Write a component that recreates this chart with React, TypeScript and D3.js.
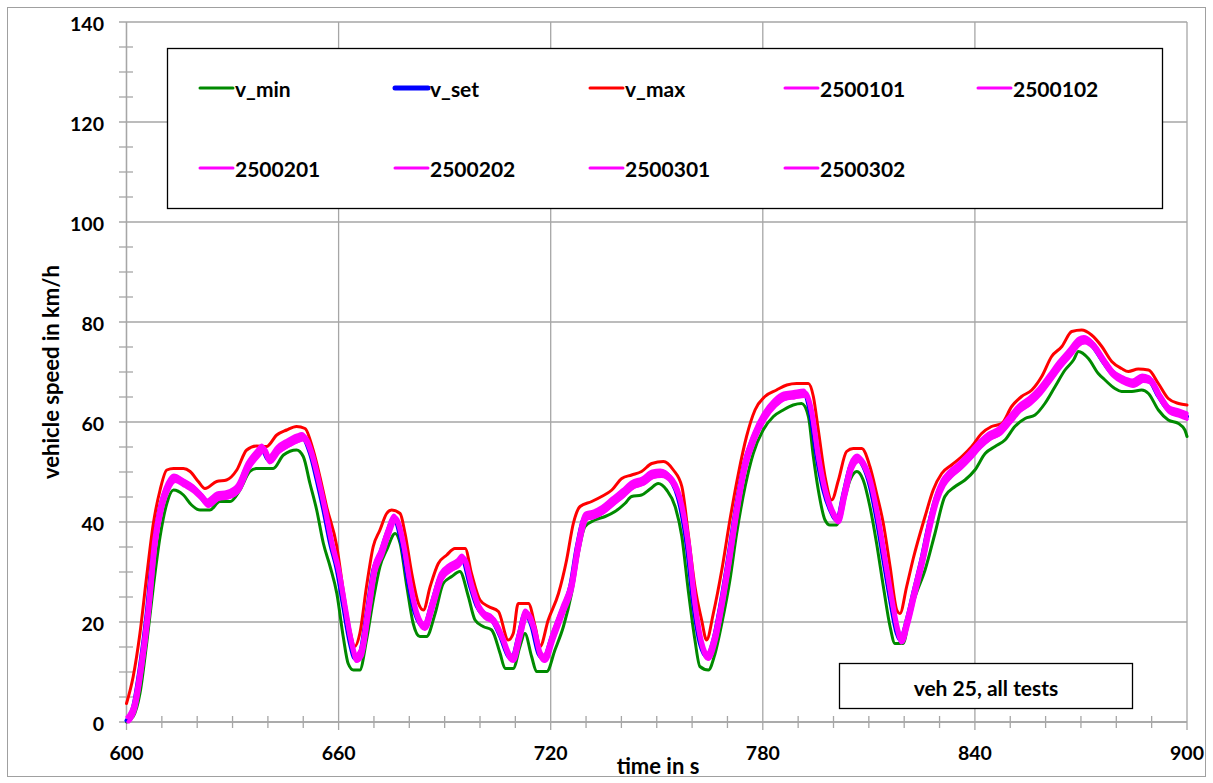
import React from 'react';
import * as d3 from 'd3';

// ---------- data ----------
const timeTicks = [600, 660, 720, 780, 840, 900];
const speedTicks = [0, 20, 40, 60, 80, 100, 120, 140];

const vSet: [number, number][] = [
  [600, 0.3], [601.9, 3.1], [603.8, 11.1], [605.7, 21.7], [607.6, 35.7], [609.5, 43.1], [611.4, 47.1],
  [613.3, 48.7], [616.1, 47.7], [618.4, 46.7], [620.8, 45.1], [622.7, 43.7], [625.5, 45.1], [628.3, 45.4],
  [631.2, 46.7], [634.0, 51.1], [636.8, 53.7], [638.2, 54.7], [640.1, 52.4], [642.5, 54.4], [645.3, 55.7],
  [648.1, 56.7], [649.5, 57.0], [651.9, 53.7], [653.8, 48.4], [655.7, 42.4], [657.6, 35.7], [659.5, 30.4],
  [661.3, 23.1], [663.2, 15.7], [664.6, 12.7], [666.0, 13.7], [667.9, 21.7], [669.8, 30.4], [671.7, 33.7],
  [673.6, 37.7], [675.5, 40.7], [677.8, 35.7], [679.7, 27.7], [681.6, 21.7], [684.0, 19.1], [686.3, 23.7],
  [688.7, 29.1], [691.0, 30.7], [693.4, 31.7], [694.8, 32.7], [697.2, 27.1], [699.1, 23.1], [700.9, 21.4],
  [703.3, 20.4], [705.7, 17.1], [708.0, 13.1], [709.0, 12.7], [710.8, 17.1], [712.7, 21.7], [714.6, 19.1],
  [716.5, 13.7], [717.9, 12.7], [720.3, 17.1], [723.1, 22.4], [725.5, 27.1], [727.4, 35.1], [729.7, 41.1],
  [731.6, 41.4], [734.4, 42.4], [737.3, 44.1], [740.1, 45.7], [742.9, 47.4], [745.7, 48.1], [748.6, 49.5],
  [750.9, 49.7], [753.8, 48.4], [756.6, 43.1], [758.5, 35.1], [760.4, 23.1], [762.2, 15.7], [764.1, 13.1],
  [766.0, 16.4], [767.9, 23.1], [769.8, 31.1], [772.1, 41.7], [774.5, 51.1], [777.3, 57.1], [780.1, 61.1],
  [783.0, 63.7], [785.8, 65.1], [788.6, 65.4], [791.5, 65.7], [793.4, 61.7], [795.2, 53.1], [797.1, 46.4],
  [799.0, 42.4], [800.9, 40.4], [802.8, 45.7], [804.7, 51.1], [806.6, 52.7], [808.4, 51.1], [810.3, 47.1],
  [812.2, 40.4], [814.1, 32.4], [816.0, 24.4], [817.9, 17.7], [818.8, 16.4], [820.7, 20.4], [822.6, 26.0],
  [825.0, 33.0], [826.8, 39.1], [828.7, 44.4], [830.6, 47.7], [832.5, 49.4], [835.3, 51.1], [838.1, 53.1],
  [841.0, 55.4], [843.8, 57.1], [846.6, 58.1], [849.5, 60.4], [852.3, 62.7], [855.1, 64.1], [858.0, 66.1],
  [860.8, 68.7], [863.6, 71.4], [866.4, 73.7], [869.3, 76.1], [870.7, 76.4], [873.0, 75.4], [875.9, 72.4],
  [878.7, 69.7], [881.5, 68.4], [884.4, 67.7], [887.2, 68.7], [889.1, 68.4], [891.9, 65.1], [894.7, 62.4],
  [897.6, 61.7], [900, 61.1],
];

const vMax: [number, number][] = [
  [600, 3.7], [601.9, 9.1], [603.8, 17.7], [605.7, 29.1], [607.6, 39.7], [609.5, 46.4], [611.4, 50.4],
  [613.3, 50.7], [616.1, 50.7], [618.0, 50.1], [620.3, 48.1], [622.2, 46.7], [625.5, 48.1], [628.3, 48.4],
  [631.2, 50.4], [634.0, 54.4], [636.8, 55.2], [639.6, 55.1], [642.5, 57.4], [645.3, 58.4], [648.1, 59.1],
  [650.5, 58.7], [652.8, 54.4], [654.7, 49.1], [656.6, 43.1], [659.5, 35.1], [661.3, 26.4], [663.2, 18.4],
  [664.6, 15.1], [666.0, 17.7], [667.9, 27.1], [669.8, 35.1], [671.7, 38.4], [673.6, 41.7], [675.0, 42.4],
  [677.4, 41.7], [678.8, 37.7], [680.7, 29.7], [682.6, 23.7], [684.0, 22.4], [685.9, 27.1], [688.2, 31.7],
  [690.6, 33.4], [692.9, 34.7], [695.8, 34.7], [697.6, 29.7], [700.0, 24.4], [702.4, 23.1], [705.2, 22.1],
  [708.0, 16.4], [709.4, 17.7], [710.8, 23.7], [713.7, 23.7], [715.6, 19.1], [717.0, 15.1], [719.3, 20.4],
  [722.2, 25.7], [724.5, 32.4], [726.4, 39.7], [728.3, 43.1], [731.6, 44.1], [734.4, 45.1], [737.3, 46.4],
  [740.1, 48.7], [742.9, 49.4], [745.7, 50.1], [748.6, 51.7], [751.9, 52.1], [754.7, 50.4], [757.1, 47.1],
  [758.9, 37.7], [760.8, 27.1], [762.7, 20.4], [764.1, 16.4], [766.0, 21.7], [768.4, 30.4], [770.7, 40.4],
  [773.1, 49.7], [775.4, 57.1], [777.8, 62.4], [780.6, 65.1], [783.9, 66.4], [786.8, 67.4], [789.6, 67.7],
  [792.9, 67.7], [794.3, 65.1], [795.7, 58.4], [797.6, 49.1], [799.5, 44.4], [801.4, 48.4], [803.7, 54.1],
  [805.6, 54.7], [808.0, 54.7], [810.3, 51.1], [812.2, 45.7], [814.1, 39.7], [816.0, 31.1], [817.9, 22.4],
  [818.8, 21.7], [820.7, 27.1], [822.6, 32.8], [825.9, 41.1], [828.2, 46.4], [830.6, 49.7], [833.4, 51.4],
  [836.3, 53.1], [839.1, 55.1], [841.9, 57.7], [844.7, 59.1], [847.6, 59.7], [850.4, 63.1], [853.2, 65.1],
  [856.1, 66.4], [858.9, 69.1], [861.7, 73.1], [864.6, 75.1], [867.4, 78.1], [870.2, 78.4], [873.0, 77.4],
  [875.9, 75.1], [878.7, 72.1], [881.5, 70.7], [883.4, 70.1], [886.2, 70.6], [889.1, 70.4], [891.9, 67.7],
  [894.7, 64.7], [897.6, 63.7], [900, 63.4],
];

const vMin: [number, number][] = [
  [600, 0], [601.9, 1.1], [603.8, 5.7], [605.7, 15.7], [607.6, 27.1], [609.5, 37.1], [611.4, 43.7],
  [613.3, 46.4], [616.1, 45.4], [618.4, 43.4], [620.8, 42.4], [623.6, 42.4], [626.4, 44.1], [629.3, 44.1],
  [632.1, 46.4], [634.9, 50.1], [636.8, 50.7], [639.6, 50.7], [641.5, 50.7], [644.4, 53.4], [648.1, 54.4],
  [650.0, 53.1], [651.9, 47.7], [653.8, 42.4], [655.7, 35.7], [657.6, 31.1], [659.5, 25.7], [661.3, 17.1],
  [662.7, 11.7], [664.2, 10.4], [666.0, 10.4], [667.9, 16.4], [669.8, 24.4], [671.7, 31.1], [673.6, 34.4],
  [676.0, 37.7], [677.4, 35.7], [679.3, 27.1], [681.1, 19.7], [683.0, 17.1], [684.9, 17.1], [687.3, 21.7],
  [689.6, 27.7], [692.0, 29.1], [694.3, 30.1], [696.7, 25.1], [698.6, 20.4], [700.9, 19.1], [703.3, 18.4],
  [705.7, 13.7], [707.1, 10.7], [709.4, 10.7], [711.3, 15.1], [712.7, 17.7], [714.6, 13.1], [716.0, 10.1],
  [718.9, 10.1], [721.2, 14.4], [723.6, 19.1], [725.9, 25.7], [727.8, 33.7], [729.7, 39.1], [732.5, 40.4],
  [735.4, 41.1], [738.2, 42.1], [741.0, 43.7], [742.9, 45.1], [745.7, 45.4], [748.1, 46.6], [750.4, 47.7],
  [752.8, 46.4], [755.2, 43.1], [757.1, 37.1], [758.9, 26.4], [760.8, 16.4], [762.2, 11.1], [764.6, 10.4],
  [766.5, 13.7], [768.4, 19.7], [770.7, 28.4], [772.6, 37.7], [775.0, 47.1], [777.3, 53.7], [780.1, 58.4],
  [783.0, 61.1], [785.8, 62.4], [788.6, 63.4], [791.0, 63.7], [792.9, 61.1], [794.3, 53.1], [795.7, 46.4],
  [797.6, 40.4], [799.0, 39.4], [800.9, 39.4], [802.8, 43.7], [804.7, 48.4], [806.6, 50.1], [808.4, 48.4],
  [810.3, 43.1], [812.2, 35.7], [814.1, 27.1], [816.0, 19.1], [817.4, 15.7], [819.7, 15.7], [821.6, 21.7],
  [823.3, 25.5], [825.9, 30.4], [828.7, 37.7], [831.5, 45.1], [834.4, 47.1], [837.2, 48.4], [840.0, 50.4],
  [842.9, 53.7], [845.7, 55.1], [848.5, 56.4], [851.3, 59.1], [854.2, 60.7], [857.0, 61.4], [859.8, 63.7],
  [862.7, 67.1], [865.5, 70.4], [867.9, 72.4], [869.3, 74.1], [872.1, 72.7], [874.9, 69.7], [876.8, 68.4],
  [879.6, 66.7], [881.5, 66.1], [884.4, 66.1], [887.2, 66.4], [889.1, 65.7], [891.9, 62.4], [894.7, 60.4],
  [897.6, 59.7], [899.4, 58.4], [900, 57.1],
];

const testRuns = ['2500101', '2500102', '2500201', '2500202', '2500301', '2500302'];
const testLag = [0.3, 0.7, 0.1, 0.5, 0.4, 0.8];
const testBias = [0.5, -0.5, 0.7, -0.2, -0.6, 0.2];

const legendItems = [
  { name: 'v_min', color: '#008a00', width: 3 },
  { name: 'v_set', color: '#0000ff', width: 5 },
  { name: 'v_max', color: '#ff0000', width: 3 },
  ...testRuns.map((n) => ({ name: n, color: '#ff00ff', width: 3 })),
];

// ---------- layout ----------
const W = 1213;
const H = 783;
const PL = 126.5, PR = 1187, PT = 22, PB = 722;
const FONT = "Lato, 'Open Sans', 'Liberation Sans', sans-serif";
const GRID = '#a6a6a6';

export default function App() {
  const x = d3.scaleLinear().domain([600, 900]).range([PL, PR]);
  const y = d3.scaleLinear().domain([0, 140]).range([PB, PT]);
  const line = d3
    .line<[number, number]>()
    .x((d) => x(d[0]))
    .y((d) => y(d[1]))
    .curve(d3.curveMonotoneX);

  const minorY = d3.range(0, 141, 5).filter((v) => v % 20 !== 0);
  const minorX = d3.range(600, 901, 10).filter((t) => t % 60 !== 0);

  const testData = testRuns.map((_, i) =>
    vSet.map(([t, v]) => [Math.min(900, t + testLag[i]), Math.max(0, v + testBias[i])] as [number, number])
  );

  const colX = [200, 395, 590, 785, 978];
  const rowY = [88, 168];

  return (
    <svg
      width={W}
      height={H}
      style={{ position: 'absolute', left: 0, top: 0, background: '#fff' }}
      fontFamily={FONT}
    >
      <rect x={0} y={0} width={W} height={H} fill="#fff" />
      <rect x={7.5} y={7.5} width={1198} height={769} fill="none" stroke="#a0a0a0" strokeWidth={1} />

      {/* gridlines */}
      {speedTicks.map((v) => (
        <line key={'gy' + v} x1={119} x2={PR} y1={y(v)} y2={y(v)} stroke={GRID} strokeWidth={1.3} />
      ))}
      {timeTicks.map((t) => (
        <line key={'gx' + t} x1={x(t)} x2={x(t)} y1={PT} y2={730} stroke={GRID} strokeWidth={1.3} />
      ))}
      {minorY.map((v) => (
        <line key={'my' + v} x1={119} x2={133} y1={y(v)} y2={y(v)} stroke={GRID} strokeWidth={1.3} />
      ))}
      {minorX.map((t) => (
        <line key={'mx' + t} x1={x(t)} x2={x(t)} y1={716} y2={728} stroke={GRID} strokeWidth={1.3} />
      ))}
      <line x1={PL} x2={PL} y1={PT} y2={PB} stroke={GRID} strokeWidth={1.3} />
      <line x1={PL} x2={PR} y1={PB} y2={PB} stroke={GRID} strokeWidth={1.3} />

      {/* tick labels */}
      {speedTicks.map((v) => (
        <text key={'ty' + v} x={104} y={y(v) + 1} textAnchor="end" dominantBaseline="central"
          fontSize={19.5} fontWeight="bold" fill="#000">{v}</text>
      ))}
      {timeTicks.map((t) => (
        <text key={'tx' + t} x={x(t)} y={760} textAnchor="middle" fontSize={19.5} fontWeight="bold" fill="#000">{t}</text>
      ))}
      <text x={658} y={774} textAnchor="middle" fontSize={22} fontWeight="bold">time in s</text>
      <text transform="translate(50,372) rotate(-90)" textAnchor="middle" dominantBaseline="central"
        fontSize={22} fontWeight="bold">vehicle speed in km/h</text>

      {/* series */}
      <g fill="none" strokeLinejoin="round" strokeLinecap="round">
        <path d={line(vMin) || ''} stroke="#008a00" strokeWidth={3} />
        <path d={line(vSet) || ''} stroke="#0000ff" strokeWidth={4} />
        <path d={line(vMax) || ''} stroke="#ff0000" strokeWidth={3} />
        {testData.map((d, i) => (
          <path key={testRuns[i]} d={line(d) || ''} stroke="#ff00ff" strokeWidth={3} />
        ))}
      </g>

      {/* legend */}
      <rect x={167.5} y={48.5} width={995} height={160} fill="#fff" stroke="#000" strokeWidth={1.3} />
      {legendItems.map((it, i) => {
        const r = i < 5 ? 0 : 1;
        const c = i < 5 ? i : i - 5;
        const lx = colX[c];
        const ly = rowY[r];
        return (
          <g key={it.name}>
            <line x1={lx} x2={lx + 33} y1={ly} y2={ly} stroke={it.color} strokeWidth={it.width} strokeLinecap="round" />
            <text x={lx + 35} y={ly} dominantBaseline="central" fontSize={21} fontWeight="bold">{it.name}</text>
          </g>
        );
      })}

      {/* annotation */}
      <rect x={839.5} y={663.5} width={293} height={45} fill="#fff" stroke="#000" strokeWidth={1.3} />
      <text x={986} y={687} textAnchor="middle" dominantBaseline="central" fontSize={21} fontWeight="bold">veh 25, all tests</text>
    </svg>
  );
}
